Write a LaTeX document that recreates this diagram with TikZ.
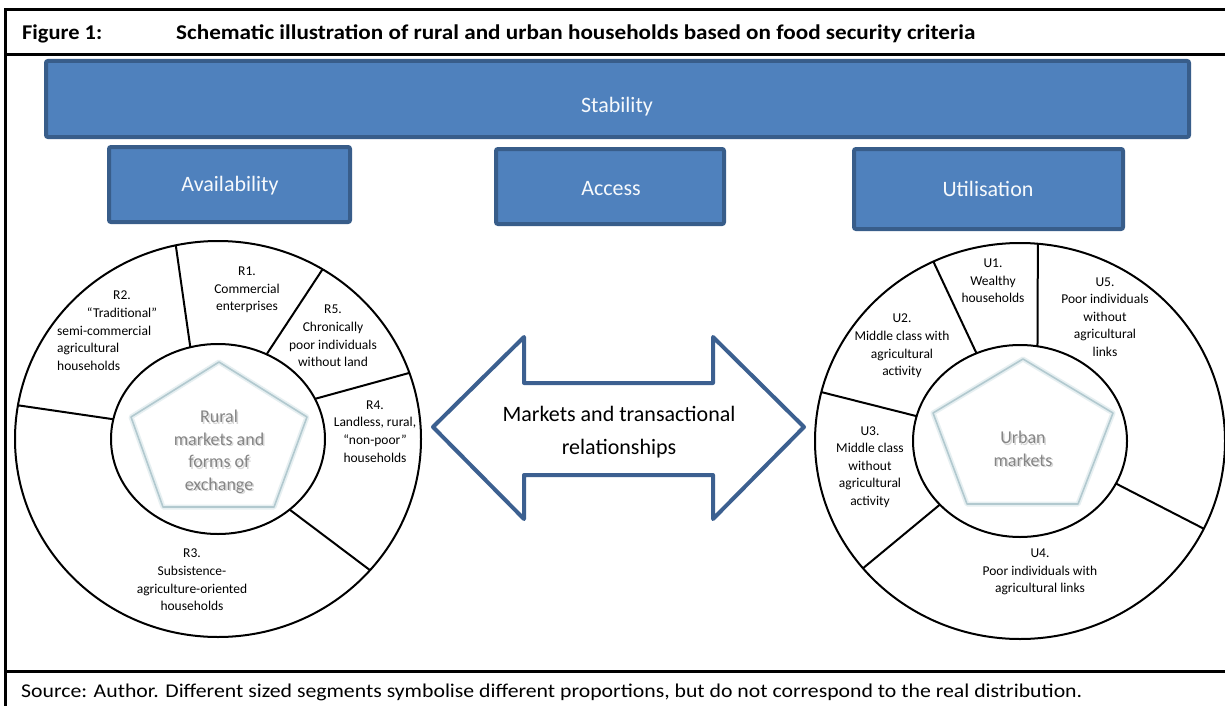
\documentclass[tikz,border=0pt]{standalone}
\usepackage{fontspec}
\setmainfont{Carlito}
\usetikzlibrary{calc}
\definecolor{boxfill}{HTML}{4F81BD}
\definecolor{boxline}{HTML}{385D8A}
\definecolor{arrline}{HTML}{3C6090}
\definecolor{pentline}{HTML}{B2C9CF}
\definecolor{pentglow}{HTML}{E6EFF1}
\definecolor{mktgray}{HTML}{858585}
\definecolor{mktshadow}{HTML}{D6D6D6}
\begin{document}
\begin{tikzpicture}[x=1pt,y=-1pt,
  frame/.style={line width=3pt, black},
  bluebox/.style={draw=boxline, line width=4pt, fill=boxfill, rounded corners=2pt, inner sep=0},
  boxtext/.style={text=white!95!boxfill, font=\fontsize{22}{26}\selectfont, inner sep=0},
  ring/.style={line width=2pt, black},
  lab/.style={font=\fontsize{13.5}{17.6}\selectfont, align=center, inner sep=0},
  pent/.style={draw=pentline, line width=1.6pt, line join=round},
  pentg/.style={draw=pentglow, line width=5pt, line join=round},
  mkt/.style={font=\fontsize{18}{22.5}\selectfont, align=center, inner sep=0, text=mktgray},
  mkts/.style={font=\fontsize{18}{22.5}\selectfont, align=center, inner sep=0, text=mktshadow},
  arrowshape/.style={draw=arrline, line width=4pt, line join=round, fill=white}]
\useasboundingbox (0,0) rectangle (1225,706);
\fill[white] (0,0) rectangle (1225,706);

% frame
\draw[frame] (1230,10) -- (5,10) -- (5,710);
\draw[frame] (5,55) -- (1230,55);
\draw[frame] (5,671) -- (1230,671);

% header and footer
\node[anchor=base west, inner sep=0, font=\bfseries\fontsize{21}{24}\selectfont] (fig) at (22,39.5) {\resizebox{80pt}{\height}{Figure 1:}};
\node[anchor=base west, inner sep=0, font=\bfseries\fontsize{21}{24}\selectfont] (title) at (176,39.5) {\resizebox{799pt}{\height}{Schematic illustration of rural and urban households based on food security criteria}};
\node[anchor=base west, inner sep=0, font=\fontsize{19.5}{22}\selectfont] (src) at (21,697.5) {\resizebox{1061pt}{\height}{Source: Author. Different sized segments symbolise different proportions, but do not correspond to the real distribution.}};

% blue boxes
\node[bluebox, minimum width=1143pt, minimum height=76pt] (stab) at (617.5,99) {};
\node[boxtext] (stabt) at (617,107) {Stability};
\node[bluebox, minimum width=241pt, minimum height=75pt] (avail) at (229.5,184.5) {};
\node[boxtext] (availt) at (230,186) {Availability};
\node[bluebox, minimum width=228pt, minimum height=75pt] (access) at (610,186.5) {};
\node[boxtext] (accesst) at (611,189) {Access};
\node[bluebox, minimum width=269pt, minimum height=80pt] (util) at (988.5,189) {};
\node[boxtext] (utilt) at (988,189) {Utilisation};

% rural circle
\coordinate (L) at (218,439);
\draw[ring] (L) ellipse [x radius=203pt, y radius=198pt];
\draw[ring] (L) ellipse [x radius=107pt, y radius=95pt];
\draw[ring] ($(L)+(258:203 and 198)$) -- ($(L)+(255:107 and 95)$);
\draw[ring] ($(L)+(301:203 and 198)$) -- ($(L)+(297:107 and 95)$);
\draw[ring] ($(L)+(340.5:203 and 198)$) -- ($(L)+(335:107 and 95)$);
\draw[ring] ($(L)+(41.5:203 and 198)$) -- ($(L)+(48:107 and 95)$);
\draw[ring] ($(L)+(189.8:203 and 198)$) -- ($(L)+(192:107 and 95)$);

\draw[pentg] (219,362) -- (307,417) -- (274,507) -- (163,507) -- (131,417) -- cycle;
\draw[pent] (219,362) -- (307,417) -- (274,507) -- (163,507) -- (131,417) -- cycle;
\node[mkts] (ruralsh) at (220.5,453.5) {Rural\\markets and\\forms of\\exchange};
\node[mkt] (rural) at (219,452) {Rural\\markets and\\forms of\\exchange};

\node[lab] (r1) at (247,290) {R1.\\Commercial\\enterprises};
\node[lab] (r5) at (333,336) {R5.\\Chronically\\poor individuals\\without land};
\node[lab] (r4) at (375,431.5) {R4.\\Landless, rural,\\“non-poor”\\households};
\node[lab] (r3) at (192,580) {R3.\\Subsistence-\\agriculture-oriented\\households};
\node[lab] (r2a) at (122,304) {R2.\\“Traditional”};
\node[lab, align=left, anchor=west] (r2b) at (57,348) {semi-commercial\\agricultural\\households};

% urban circle
\coordinate (U) at (1020,441);
\draw[ring] (U) ellipse [x radius=205pt, y radius=198pt];
\draw[ring] (U) ellipse [x radius=107pt, y radius=96pt];
\draw[ring] ($(U)+(245:205 and 198)$) -- ($(U)+(246:107 and 96)$);
\draw[ring] ($(U)+(275:205 and 198)$) -- ($(U)+(279.4:107 and 96)$);
\draw[ring] ($(U)+(26.3:205 and 198)$) -- ($(U)+(26.3:107 and 96)$);
\draw[ring] ($(U)+(140:205 and 198)$) -- ($(U)+(138.5:107 and 96)$);
\draw[ring] ($(U)+(194.3:205 and 198)$) -- ($(U)+(195:107 and 96)$);

\draw[pentg] (1023,359) -- (1113,413) -- (1078,504) -- (967,504) -- (933,413) -- cycle;
\draw[pent] (1023,359) -- (1113,413) -- (1078,504) -- (967,504) -- (933,413) -- cycle;
\node[mkts] (urbansh) at (1024.5,450.5) {Urban\\markets};
\node[mkt] (urban) at (1023,449) {Urban\\markets};

\node[lab] (u1) at (993,281) {U1.\\Wealthy\\households};
\node[lab] (u5) at (1105,317) {U5.\\Poor individuals\\without\\agricultural\\links};
\node[lab] (u2) at (902,346) {U2.\\Middle class with\\agricultural\\activity};
\node[lab] (u3) at (870,467) {U3.\\Middle class\\without\\agricultural\\activity};
\node[lab] (u4) at (1040,572) {U4.\\Poor individuals with\\agricultural links};

% double arrow
\draw[arrowshape] (433,427) -- (524,337) -- (524,383) -- (713,383) -- (713,337) -- (804,427) -- (713,519) -- (713,475) -- (524,475) -- (524,519) -- cycle;
\node[font=\fontsize{22}{33}\selectfont, align=center, inner sep=0] (mktrel) at (619,432) {Markets and transactional\\relationships};
\end{tikzpicture}
\end{document}
